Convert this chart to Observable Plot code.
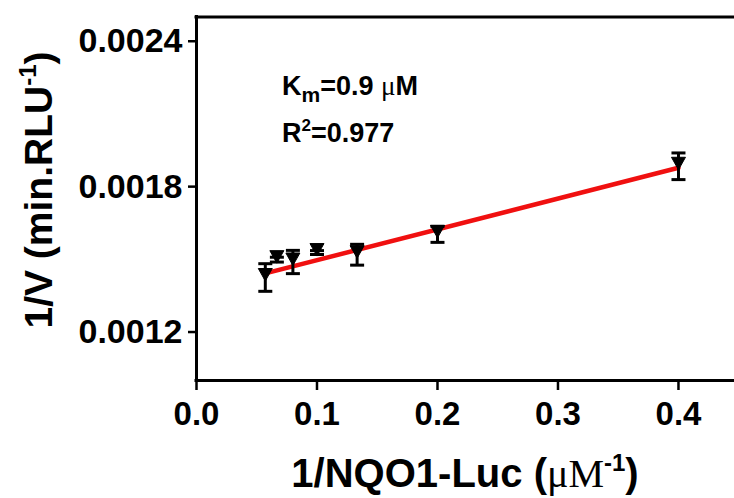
<!DOCTYPE html>
<html><head><meta charset="utf-8">
<script src="https://cdn.jsdelivr.net/npm/d3@7"></script>
<script src="https://cdn.jsdelivr.net/npm/@observablehq/plot@0.6"></script>
<style>
html,body{margin:0;padding:0;background:#fff;}
</style>
</head><body><div id="chart"></div>
<script>
// 1/[NQO1-Luc] (µM^-1)
const invSubstrate = [0.0571, 0.0667, 0.08, 0.1, 0.1333, 0.2, 0.4];
// 1/V means (min.RLU^-1)
const invVelocity = [0.001425, 0.0014987, 0.001489, 0.001528, 0.001519, 0.001603, 0.001884];
// error bar half-lengths
const velocityError = [0.000057, 0.00001, 0.000048, 0.000008, 0.000043, 0.000033, 0.000055];
// regression line endpoints
const fitX = [0.0571, 0.4];
const fitY = [0.001442, 0.001878];
const xTicks = [0, 0.1, 0.2, 0.3, 0.4];
const yTicks = [0.0012, 0.0018, 0.0024];
const xDomain = [0, 0.4465];
const yDomain = [0.001, 0.0025];
const kmText = "0.9";
const r2Text = "0.977";

const points = invSubstrate.map((x, i) => ({
  x, y: invVelocity[i],
  lo: invVelocity[i] - velocityError[i],
  hi: invVelocity[i] + velocityError[i]
}));
const fit = fitX.map((x, i) => ({x, y: fitY[i]}));

const downTriangle = {draw(ctx) { ctx.moveTo(-7, -9); ctx.lineTo(7, -9); ctx.lineTo(0, 3.5); ctx.closePath(); }};
const cap = {draw(ctx) { ctx.moveTo(-7, 0); ctx.lineTo(7, 0); }};

const SANS = "'Liberation Sans', Arial, Helvetica, sans-serif";
const SERIF = "'Liberation Serif', 'Times New Roman', serif";

const chart = Plot.plot({
  width: 734,
  height: 498,
  marginLeft: 196,
  marginRight: 0,
  marginTop: 16.5,
  marginBottom: 118,
  style: {fontFamily: SANS, background: "white", color: "black"},
  x: {domain: xDomain},
  y: {domain: yDomain},
  marks: [
    Plot.axisX({ticks: xTicks, tickSize: 10, tickPadding: 11, tickFormat: d3.format(".1f"),
      strokeWidth: 2.5, fontSize: 33, fontWeight: "bold", label: null}),
    Plot.axisY({ticks: yTicks, tickSize: 8, tickPadding: 6, tickFormat: d3.format(".4f"),
      strokeWidth: 2.5, fontSize: 34, fontWeight: "bold", label: null}),
    Plot.ruleY([yDomain[0]], {strokeWidth: 3, strokeLinecap: "square"}),
    Plot.ruleY([yDomain[1]], {strokeWidth: 3, strokeLinecap: "square"}),
    Plot.ruleX([xDomain[0]], {strokeWidth: 3, strokeLinecap: "square"}),
    Plot.line(fit, {x: "x", y: "y", stroke: "#f01010", strokeWidth: 4.5}),
    Plot.ruleX(points, {x: "x", y1: "lo", y2: "hi", strokeWidth: 3}),
    Plot.dot(points, {x: "x", y: "lo", symbol: cap, stroke: "black", fill: "none", strokeWidth: 3}),
    Plot.dot(points, {x: "x", y: "hi", symbol: cap, stroke: "black", fill: "none", strokeWidth: 3}),
    Plot.dot(points, {x: "x", y: "y", symbol: downTriangle, fill: "black", stroke: "black", strokeWidth: 1})
  ]
});

const svg = d3.select(chart);

// y-axis title
const yl = svg.append("text")
  .attr("transform", "translate(52,190) rotate(-90)")
  .attr("text-anchor", "middle").attr("font-family", SANS)
  .attr("font-weight", "bold").attr("font-size", 39).attr("fill", "black");
yl.append("tspan").text("1/V (min.RLU");
yl.append("tspan").attr("font-size", 24).attr("dy", -16).text("-1");
yl.append("tspan").attr("dy", 16).text(")");

// x-axis title
const xl = svg.append("text")
  .attr("x", 465).attr("y", 487)
  .attr("text-anchor", "middle").attr("font-family", SANS)
  .attr("font-weight", "bold").attr("font-size", 40).attr("fill", "black");
xl.append("tspan").text("1/NQO1-Luc (");
xl.append("tspan").attr("font-family", SERIF).attr("font-weight", "normal").text("\u03bcM");
xl.append("tspan").attr("font-size", 24).attr("dy", -16).text("-1");
xl.append("tspan").attr("dy", 16).text(")");

// annotation
const a1 = svg.append("text").attr("x", 282).attr("y", 95).attr("text-anchor", "start")
  .attr("font-family", SANS).attr("font-weight", "bold").attr("font-size", 27).attr("fill", "black");
a1.append("tspan").text("K");
a1.append("tspan").attr("font-size", 21).attr("dy", 7).text("m");
a1.append("tspan").attr("dy", -7).text("=" + kmText + " ");
a1.append("tspan").attr("font-family", SERIF).attr("font-weight", "normal").text("\u03bc");
a1.append("tspan").text("M");

const a2 = svg.append("text").attr("x", 282).attr("y", 142).attr("text-anchor", "start")
  .attr("font-family", SANS).attr("font-weight", "bold").attr("font-size", 27).attr("fill", "black");
a2.append("tspan").text("R");
a2.append("tspan").attr("font-size", 17).attr("dy", -11).text("2");
a2.append("tspan").attr("dy", 11).text("=" + r2Text);

document.getElementById("chart").appendChild(chart);
</script>
</body></html>
